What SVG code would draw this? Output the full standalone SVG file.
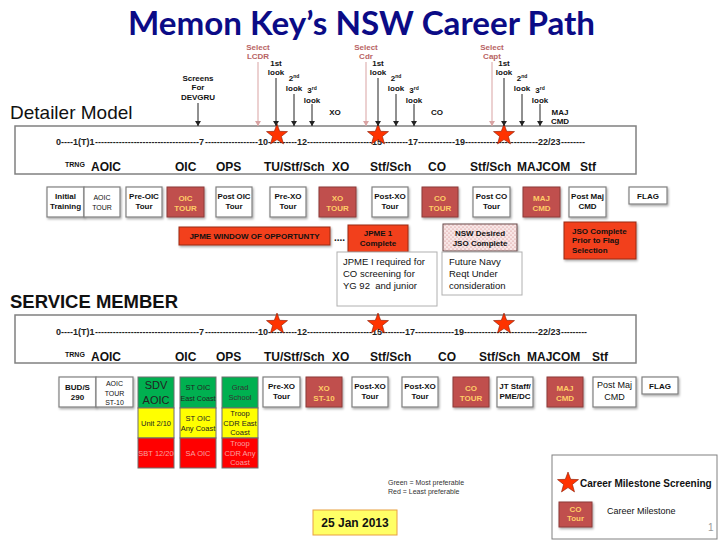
<svg xmlns="http://www.w3.org/2000/svg" width="720" height="540" viewBox="0 0 720 540">
<style>
text{font-family:"Liberation Sans",Arial,sans-serif}
.title{font-family:Lato,"Open Sans",sans-serif;font-weight:bold;font-size:32px;fill:#0b0b86}
.h{font-size:19px;fill:#111}
.al{font-size:8px;font-weight:bold;fill:#111;text-anchor:middle}
.sel{font-size:8px;font-weight:bold;fill:#b86464;text-anchor:middle}
.tl{font-size:9px;font-weight:bold;fill:#222}
.lb{font-size:12px;font-weight:bold;fill:#111}
.tr{font-size:7px;font-weight:bold;fill:#111}
.bx{font-size:8px;font-weight:bold;fill:#111;text-anchor:middle}
.bxl{font-size:8px;font-weight:bold;fill:#111;text-anchor:start}
.bxr{font-size:8px;font-weight:bold;fill:#ffcc66;text-anchor:middle}
.sm{font-size:7px;fill:#111;text-anchor:middle}
.cl{font-size:7.5px;fill:#222;text-anchor:middle}
.clr{font-size:7.5px;fill:#f7a0a0;text-anchor:middle}
.note{font-size:9.5px;fill:#111;white-space:pre}
.wb{fill:#fff;stroke:#808080;stroke-width:1.2;filter:url(#sh)}
.rb{fill:#c0504d;stroke:#8c3a38;stroke-width:1;filter:url(#sh)}
.ob{fill:#f2401a;stroke:#9a2a10;stroke-width:1;filter:url(#sh)}
.frame{fill:#fff;stroke:#808080;stroke-width:1.5}
.g{fill:#00b050;stroke:#6e6e6e;stroke-width:1}
.y{fill:#ffff00;stroke:#6e6e6e;stroke-width:1}
.r{fill:#ff0000;stroke:#6e6e6e;stroke-width:1}
.ar{stroke:#222;stroke-width:1;fill:none}
.ap{stroke:#d9a3a3;stroke-width:1;fill:none}
.star{fill:#ff3300;stroke:#8a1a00;stroke-width:0.6}
</style>
<defs>
<filter id="sh" x="-20%" y="-20%" width="150%" height="150%"><feDropShadow dx="1" dy="1.5" stdDeviation="0.8" flood-opacity="0.35"/></filter>
<marker id="mk" markerUnits="userSpaceOnUse" markerWidth="6" markerHeight="6" refX="5" refY="3" orient="auto"><path d="M0,0 L5,3 L0,6 z" fill="#222"/></marker>
<marker id="mp" markerUnits="userSpaceOnUse" markerWidth="6" markerHeight="6" refX="5" refY="3" orient="auto"><path d="M0,0 L5,3 L0,6 z" fill="#d9a3a3"/></marker>
<path id="st" class="star" d="M0,-11 L2.7,-3.7 L10.5,-3.4 L4.4,1.4 L6.5,8.9 L0,4.6 L-6.5,8.9 L-4.4,1.4 L-10.5,-3.4 L-2.7,-3.7 Z"/>
<pattern id="dots" width="4" height="4" patternUnits="userSpaceOnUse"><rect width="4" height="4" fill="#f8e6e6"/><circle cx="1" cy="1" r="0.6" fill="#c87878"/><circle cx="3" cy="3" r="0.6" fill="#c87878"/></pattern>
</defs>
<rect width="720" height="540" fill="#fff"/>

<text class="title" x="128" y="35" textLength="467" lengthAdjust="spacingAndGlyphs">Memon Key’s NSW Career Path</text>
<text class="h" x="10" y="119">Detailer Model</text>
<text class="h" x="10" y="308" font-weight="bold" textLength="168" lengthAdjust="spacingAndGlyphs">SERVICE MEMBER</text>

<g id="timeline1">
<rect class="frame" x="15" y="126" width="621" height="48"/>
<text class="tl" x="56" y="145">0----1(T)1</text>
<text class="tl" x="95" y="145" textLength="104" lengthAdjust="spacingAndGlyphs">-----------------------------------</text>
<text class="tl" x="199" y="145">7</text>
<text class="tl" x="205" y="145" textLength="53" lengthAdjust="spacingAndGlyphs">------------------</text>
<text class="tl" x="258" y="145">10</text>
<text class="tl" x="268" y="145" textLength="29" lengthAdjust="spacingAndGlyphs">----------</text>
<text class="tl" x="297" y="145">12</text>
<text class="tl" x="307" y="145" textLength="65" lengthAdjust="spacingAndGlyphs">----------------------</text>
<text class="tl" x="372" y="145">15</text>
<text class="tl" x="382" y="145" textLength="26" lengthAdjust="spacingAndGlyphs">---------</text>
<text class="tl" x="408" y="145">17</text>
<text class="tl" x="418" y="145" textLength="37" lengthAdjust="spacingAndGlyphs">------------</text>
<text class="tl" x="455" y="145">19</text>
<text class="tl" x="465" y="145" textLength="73" lengthAdjust="spacingAndGlyphs">------------------------</text>
<text class="tl" x="538" y="145">22/23</text>
<text class="tl" x="561" y="145" textLength="24" lengthAdjust="spacingAndGlyphs">--------</text>
<text class="tr" x="65" y="167">TRNG</text>
<text class="lb" x="91" y="171">AOIC</text>
<text class="lb" x="175" y="171">OIC</text>
<text class="lb" x="216" y="171">OPS</text>
<text class="lb" x="264" y="171">TU/Stf/Sch</text>
<text class="lb" x="332" y="171">XO</text>
<text class="lb" x="370" y="171">Stf/Sch</text>
<text class="lb" x="428" y="171">CO</text>
<text class="lb" x="470" y="171">Stf/Sch</text>
<text class="lb" x="517" y="171">MAJCOM</text>
<text class="lb" x="580" y="171">Stf</text>
<use href="#st" x="277" y="135"/>
<use href="#st" x="378" y="135"/>
<use href="#st" x="504" y="135"/>
</g>

<g id="timeline2">
<rect class="frame" x="15" y="315" width="621" height="48"/>
<text class="tl" x="56" y="335">0----1(T)1</text>
<text class="tl" x="95" y="335" textLength="104" lengthAdjust="spacingAndGlyphs">-----------------------------------</text>
<text class="tl" x="199" y="335">7</text>
<text class="tl" x="205" y="335" textLength="53" lengthAdjust="spacingAndGlyphs">------------------</text>
<text class="tl" x="258" y="335">10</text>
<text class="tl" x="268" y="335" textLength="29" lengthAdjust="spacingAndGlyphs">----------</text>
<text class="tl" x="297" y="335">12</text>
<text class="tl" x="307" y="335" textLength="65" lengthAdjust="spacingAndGlyphs">----------------------</text>
<text class="tl" x="372" y="335">15</text>
<text class="tl" x="382" y="335" textLength="23" lengthAdjust="spacingAndGlyphs">--------</text>
<text class="tl" x="405" y="335">17</text>
<text class="tl" x="415" y="335" textLength="39" lengthAdjust="spacingAndGlyphs">-------------</text>
<text class="tl" x="454" y="335">19</text>
<text class="tl" x="464" y="335" textLength="74" lengthAdjust="spacingAndGlyphs">-------------------------</text>
<text class="tl" x="538" y="335">22/23</text>
<text class="tl" x="561" y="335" textLength="26" lengthAdjust="spacingAndGlyphs">---------</text>
<text class="tr" x="65" y="357">TRNG</text>
<text class="lb" x="91" y="361">AOIC</text>
<text class="lb" x="175" y="361">OIC</text>
<text class="lb" x="216" y="361">OPS</text>
<text class="lb" x="264" y="361">TU/Stf/Sch</text>
<text class="lb" x="332" y="361">XO</text>
<text class="lb" x="370" y="361">Stf/Sch</text>
<text class="lb" x="438" y="361">CO</text>
<text class="lb" x="479" y="361">Stf/Sch</text>
<text class="lb" x="527" y="361">MAJCOM</text>
<text class="lb" x="592" y="361">Stf</text>
<use href="#st" x="277" y="324"/>
<use href="#st" x="378" y="324"/>
<use href="#st" x="504" y="324"/>
</g>

<g id="connectors">
<line class="ar" x1="198" y1="103" x2="198" y2="126" marker-end="url(#mk)"/>
<line class="ap" x1="258" y1="62" x2="258" y2="126" marker-end="url(#mp)"/>
<line class="ar" x1="276" y1="78" x2="276" y2="126" marker-end="url(#mk)"/>
<line class="ar" x1="294" y1="94" x2="294" y2="126" marker-end="url(#mk)"/>
<line class="ar" x1="312" y1="104" x2="312" y2="126" marker-end="url(#mk)"/>
<line class="ap" x1="366" y1="62" x2="366" y2="126" marker-end="url(#mp)"/>
<line class="ar" x1="378" y1="78" x2="378" y2="126" marker-end="url(#mk)"/>
<line class="ar" x1="396" y1="94" x2="396" y2="126" marker-end="url(#mk)"/>
<line class="ar" x1="414" y1="104" x2="414" y2="126" marker-end="url(#mk)"/>
<line class="ap" x1="492" y1="62" x2="492" y2="126" marker-end="url(#mp)"/>
<line class="ar" x1="504" y1="78" x2="504" y2="126" marker-end="url(#mk)"/>
<line class="ar" x1="522" y1="94" x2="522" y2="126" marker-end="url(#mk)"/>
<line class="ar" x1="540" y1="104" x2="540" y2="126" marker-end="url(#mk)"/>
</g>

<g id="labels">
<text class="al" x="198" y="81">Screens</text>
<text class="al" x="198" y="90">For</text>
<text class="al" x="198" y="100">DEVGRU</text>
<text class="sel" x="258" y="50">Select</text>
<text class="sel" x="258" y="59">LCDR</text>
<text class="al" x="276" y="66">1st</text>
<text class="al" x="276" y="75">look</text>
<text class="al" x="294" y="81">2<tspan font-size="5" dy="-3">nd</tspan></text>
<text class="al" x="294" y="91">look</text>
<text class="al" x="312" y="93">3<tspan font-size="5" dy="-3">rd</tspan></text>
<text class="al" x="312" y="103">look</text>
<text class="al" x="335" y="115">XO</text>
<text class="sel" x="366" y="50">Select</text>
<text class="sel" x="366" y="59">Cdr</text>
<text class="al" x="378" y="66">1st</text>
<text class="al" x="378" y="75">look</text>
<text class="al" x="396" y="81">2<tspan font-size="5" dy="-3">nd</tspan></text>
<text class="al" x="396" y="91">look</text>
<text class="al" x="414" y="93">3<tspan font-size="5" dy="-3">rd</tspan></text>
<text class="al" x="414" y="103">look</text>
<text class="al" x="437" y="115">CO</text>
<text class="sel" x="492" y="50">Select</text>
<text class="sel" x="492" y="59">Capt</text>
<text class="al" x="504" y="66">1st</text>
<text class="al" x="504" y="75">look</text>
<text class="al" x="522" y="81">2<tspan font-size="5" dy="-3">nd</tspan></text>
<text class="al" x="522" y="91">look</text>
<text class="al" x="540" y="93">3<tspan font-size="5" dy="-3">rd</tspan></text>
<text class="al" x="540" y="103">look</text>
<text class="al" x="560" y="115">MAJ</text>
<text class="al" x="560" y="124">CMD</text>
</g>

<g id="d-initial"><rect class="wb" x="47" y="187" width="37" height="30"/><text class="bx" x="65.5" y="199">Initial</text><text class="bx" x="65.5" y="209">Training</text></g>
<g id="d-aoic"><rect class="wb" x="84" y="187" width="36" height="30"/><text class="sm" x="102" y="200">AOIC</text><text class="sm" x="102" y="210">TOUR</text></g>
<g id="d-preoic"><rect class="wb" x="126" y="187" width="36" height="30"/><text class="bx" x="144" y="199">Pre-OIC</text><text class="bx" x="144" y="209">Tour</text></g>
<g id="d-oic"><rect class="rb" x="167" y="187" width="37" height="30"/><text class="bxr" x="185.5" y="201">OIC</text><text class="bxr" x="185.5" y="211">TOUR</text></g>
<g id="d-postoic"><rect class="wb" x="216" y="187" width="36" height="30"/><text class="bx" x="234" y="199" textLength="33" lengthAdjust="spacingAndGlyphs">Post OIC</text><text class="bx" x="234" y="209">Tour</text></g>
<g id="d-prexo"><rect class="wb" x="270" y="187" width="36" height="30"/><text class="bx" x="288" y="199">Pre-XO</text><text class="bx" x="288" y="209">Tour</text></g>
<g id="d-xo"><rect class="rb" x="319" y="187" width="37" height="30"/><text class="bxr" x="337.5" y="201">XO</text><text class="bxr" x="337.5" y="211">TOUR</text></g>
<g id="d-postxo"><rect class="wb" x="372" y="187" width="36" height="30"/><text class="bx" x="390" y="199">Post-XO</text><text class="bx" x="390" y="209">Tour</text></g>
<g id="d-co"><rect class="rb" x="422" y="187" width="36" height="30"/><text class="bxr" x="440" y="201">CO</text><text class="bxr" x="440" y="211">TOUR</text></g>
<g id="d-postco"><rect class="wb" x="473" y="187" width="37" height="30"/><text class="bx" x="491.5" y="199">Post CO</text><text class="bx" x="491.5" y="209">Tour</text></g>
<g id="d-maj"><rect class="rb" x="523" y="187" width="37" height="30"/><text class="bxr" x="541.5" y="201">MAJ</text><text class="bxr" x="541.5" y="211">CMD</text></g>
<g id="d-postmaj"><rect class="wb" x="569" y="187" width="37" height="30"/><text class="bx" x="587.5" y="199">Post Maj</text><text class="bx" x="587.5" y="209">CMD</text></g>
<g id="d-flag"><rect class="wb" x="629" y="187" width="38" height="17"/><text class="bx" x="648" y="199">FLAG</text></g>

<g id="jpme-window"><rect class="ob" x="179" y="227" width="151" height="18"/><text class="bx" x="254.5" y="239">JPME WINDOW OF OPPORTUNTY</text></g>
<text class="bx" x="339.5" y="241" style="font-size:10px">....</text>
<g id="jpme1"><rect class="ob" x="348" y="225" width="60" height="27"/><text class="bx" x="378" y="236">JPME 1</text><text class="bx" x="378" y="246">Complete</text></g>
<g id="nsw-jso"><rect x="443" y="224" width="74" height="27" fill="url(#dots)" stroke="#6a4a4a" stroke-width="1" style="filter:url(#sh)"/><text class="bx" x="480" y="236">NSW Desired</text><text class="bx" x="480" y="246">JSO Complete</text></g>
<g id="jso-flag"><rect class="ob" x="564" y="222" width="72" height="37"/><text class="bxl" x="572" y="234">JSO Complete</text><text class="bxl" x="572" y="243">Prior to Flag</text><text class="bxl" x="572" y="253">Selection</text></g>
<g id="note-jpme"><rect x="337" y="252" width="100" height="54" fill="#fff" stroke="#b0b0b0" stroke-width="1"/><text class="note" x="343" y="265">JPME I required for</text><text class="note" x="343" y="277">CO screening for</text><text class="note" x="343" y="289">YG 92  and junior</text></g>
<g id="note-navy"><rect x="442" y="252" width="80" height="43" fill="#fff" stroke="#b0b0b0" stroke-width="1"/><text class="note" x="449" y="265">Future Navy</text><text class="note" x="449" y="277">Reqt Under</text><text class="note" x="449" y="289">consideration</text></g>

<g id="s-buds"><rect class="wb" x="59" y="377" width="37" height="30"/><text class="bx" x="77.5" y="390">BUD/S</text><text class="bx" x="77.5" y="400">290</text></g>
<g id="s-aoic"><rect class="wb" x="96" y="377" width="37" height="30"/><text class="sm" x="114.5" y="386">AOIC</text><text class="sm" x="114.5" y="396">TOUR</text><text class="sm" x="114.5" y="405">ST-10</text></g>
<g id="s-sdv">
<rect class="g" x="138" y="377" width="36" height="31"/><rect class="y" x="138" y="408" width="36" height="30"/><rect class="r" x="138" y="438" width="36" height="30"/>
<text class="cl" x="156" y="389" style="font-size:11px">SDV</text><text class="cl" x="156" y="404" style="font-size:11px">AOIC</text>
<text class="cl" x="156" y="426">Unit 2/10</text>
<text class="clr" x="156" y="456">SBT 12/20</text>
</g>
<g id="s-stoic">
<rect class="g" x="180" y="377" width="36" height="31"/><rect class="y" x="180" y="408" width="36" height="30"/><rect class="r" x="180" y="438" width="36" height="30"/>
<text class="cl" x="198" y="390">ST OIC</text><text class="cl" x="198" y="401" textLength="35" lengthAdjust="spacingAndGlyphs">East Coast</text>
<text class="cl" x="198" y="421">ST OIC</text><text class="cl" x="198" y="431">Any Coast</text>
<text class="clr" x="198" y="456">SA OIC</text>
</g>
<g id="s-grad">
<rect class="g" x="222" y="377" width="36" height="31"/><rect class="y" x="222" y="408" width="36" height="30"/><rect class="r" x="222" y="438" width="36" height="30"/>
<text class="cl" x="240" y="390" style="fill:#333">Grad</text><text class="cl" x="240" y="400" style="fill:#333">School</text>
<text class="cl" x="240" y="416">Troop</text><text class="cl" x="240" y="426">CDR East</text><text class="cl" x="240" y="435">Coast</text>
<text class="clr" x="240" y="446">Troop</text><text class="clr" x="240" y="456">CDR Any</text><text class="clr" x="240" y="465">Coast</text>
</g>
<g id="s-prexo"><rect class="wb" x="263" y="377" width="37" height="30"/><text class="bx" x="281.5" y="389">Pre-XO</text><text class="bx" x="281.5" y="399">Tour</text></g>
<g id="s-xo"><rect class="rb" x="306" y="377" width="36" height="30"/><text class="bxr" x="324" y="391">XO</text><text class="bxr" x="324" y="401">ST-10</text></g>
<g id="s-postxo1"><rect class="wb" x="352" y="377" width="36" height="30"/><text class="bx" x="370" y="389">Post-XO</text><text class="bx" x="370" y="399">Tour</text></g>
<g id="s-postxo2"><rect class="wb" x="402" y="377" width="36" height="30"/><text class="bx" x="420" y="389">Post-XO</text><text class="bx" x="420" y="399">Tour</text></g>
<g id="s-co"><rect class="rb" x="453" y="377" width="36" height="30"/><text class="bxr" x="471" y="391">CO</text><text class="bxr" x="471" y="401">TOUR</text></g>
<g id="s-jt"><rect class="wb" x="497" y="377" width="36" height="30"/><text class="bx" x="515" y="389">JT Staff/</text><text class="bx" x="515" y="399">PME/DC</text></g>
<g id="s-maj"><rect class="rb" x="547" y="377" width="36" height="30"/><text class="bxr" x="565" y="391">MAJ</text><text class="bxr" x="565" y="401">CMD</text></g>
<g id="s-postmaj"><rect class="wb" x="593" y="377" width="43" height="30"/><text class="cl" x="614.5" y="388" style="font-size:9px;fill:#111">Post Maj</text><text class="cl" x="614.5" y="400" style="font-size:9px;fill:#111">CMD</text></g>
<g id="s-flag"><rect class="wb" x="642" y="377" width="36" height="17"/><text class="bx" x="660" y="389">FLAG</text></g>

<text x="388" y="485" font-size="7" fill="#333">Green = Most preferable</text>
<text x="388" y="494" font-size="7" fill="#333">Red = Least preferable</text>

<g id="date"><rect x="313" y="510" width="84" height="25" fill="#ffff66" stroke="#e8a040" stroke-width="1"/><text x="355" y="527" font-size="12" font-weight="bold" fill="#111" text-anchor="middle">25 Jan 2013</text></g>

<g id="legend">
<rect x="552" y="455" width="165" height="84" fill="#fff" stroke="#808080" stroke-width="1"/>
<use href="#st" x="568" y="483"/>
<text x="580" y="487" font-size="10" font-weight="bold" fill="#111">Career Milestone Screening</text>
<rect class="rb" x="559" y="502" width="33" height="25"/>
<text class="bxr" x="575.5" y="512">CO</text><text class="bxr" x="575.5" y="521">Tour</text>
<text x="607" y="514" font-size="9" fill="#111">Career Milestone</text>
<text x="708" y="531" font-size="10" fill="#999">1</text>
</g>
</svg>
